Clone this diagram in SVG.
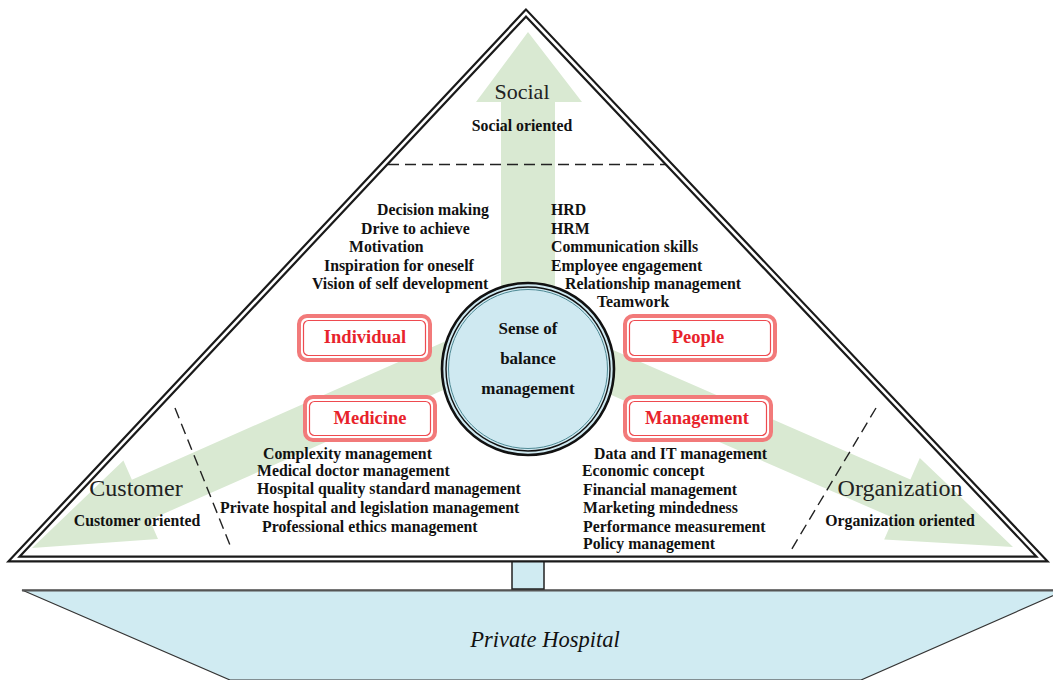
<svg xmlns="http://www.w3.org/2000/svg" width="1053" height="680" viewBox="0 0 1053 680">
<defs>
<style>
.arrow{fill:#d9e9d2;stroke:none}
.t{font-family:"Liberation Serif","Times New Roman",serif;font-weight:bold;font-size:15.8px;fill:#111}
.c{font-family:"Liberation Serif","Times New Roman",serif;font-weight:bold;font-size:17px;fill:#111;text-anchor:middle}
.big{font-family:"Liberation Serif","Times New Roman",serif;font-size:24px;fill:#222}
.lbl{font-family:"Liberation Serif","Times New Roman",serif;font-weight:bold;font-size:18.5px;fill:#e8232b;text-anchor:middle}
.boxo{fill:#fff;stroke:#f27a7a;stroke-width:4}
.boxi{fill:none;stroke:#ee4a4f;stroke-width:1.2}
.dash{fill:none;stroke:#222;stroke-width:1.4;stroke-dasharray:11 6}
</style>
</defs>
<rect width="1053" height="680" fill="#fff"/>
<g id="hospital">
<polygon points="22,590 1066,590 861,680 230,680" fill="#d0ebf2" stroke="#333" stroke-width="1.2"/>
<line x1="22" y1="590.5" x2="1053" y2="590.5" stroke="#555" stroke-width="2"/>
<text x="545" y="647" text-anchor="middle" font-family="'Liberation Serif','Times New Roman',serif" font-style="italic" font-size="22.5" fill="#111">Private Hospital</text>
</g>
<g id="link">
<rect x="512" y="561" width="32" height="28" fill="#d0ebf2" stroke="#222" stroke-width="1.5"/>
</g>
<g id="connectors">
<polygon class="arrow" points="528,32 582,102 555,102 555,330 501,330 501,102 476,102"/>
<polygon class="arrow" points="32,548 158,539 149.7,519.9 543,346 525,306 131.9,479.7 123.4,460.5"/>
<polygon class="arrow" points="1013,547 884.2,539.5 893.6,518 508.6,350.3 525.4,311.7 910.4,479.4 919.8,457.9"/>
<line class="dash" x1="388" y1="164.5" x2="676" y2="164.5"/>
<line class="dash" x1="175" y1="408" x2="232" y2="550"/>
<line class="dash" x1="876" y1="408" x2="790" y2="552"/>
</g>
<g id="pyramid">
<polygon points="526,13 14,559 1042,559" fill="none" stroke="#1a1a1a" stroke-width="7" stroke-linejoin="miter"/>
<polygon points="526,13 14,559 1042,559" fill="none" stroke="#fff" stroke-width="2.6" stroke-linejoin="miter"/>
</g>
<g id="social">
<text class="big" x="522" y="99" text-anchor="middle" style="font-size:22px">Social</text>
<text class="t" x="522" y="131" text-anchor="middle">Social oriented</text>
</g>
<g id="customer">
<text class="big" x="136" y="496" text-anchor="middle">Customer</text>
<text class="t" x="137" y="526" text-anchor="middle">Customer oriented</text>
</g>
<g id="organization">
<text class="big" x="900" y="496" text-anchor="middle">Organization</text>
<text class="t" x="900" y="526" text-anchor="middle">Organization oriented</text>
</g>
<g id="individual-list">
<text class="t" x="377" y="215">Decision making</text>
<text class="t" x="361" y="234">Drive to achieve</text>
<text class="t" x="349" y="252">Motivation</text>
<text class="t" x="324" y="271">Inspiration for oneself</text>
<text class="t" x="312" y="289">Vision of self development</text>
</g>
<g id="people-list">
<text class="t" x="551" y="215">HRD</text>
<text class="t" x="551" y="234">HRM</text>
<text class="t" x="551" y="252">Communication skills</text>
<text class="t" x="551" y="271">Employee engagement</text>
<text class="t" x="565" y="289">Relationship management</text>
<text class="t" x="597" y="307">Teamwork</text>
</g>
<g id="medicine-list">
<text class="t" x="263" y="459">Complexity management</text>
<text class="t" x="257" y="476">Medical doctor management</text>
<text class="t" x="257" y="494">Hospital quality standard management</text>
<text class="t" x="220" y="513">Private hospital and legislation management</text>
<text class="t" x="262" y="532">Professional ethics management</text>
</g>
<g id="management-list">
<text class="t" x="594" y="459">Data and IT management</text>
<text class="t" x="582" y="476">Economic concept</text>
<text class="t" x="583" y="495">Financial management</text>
<text class="t" x="583" y="513">Marketing mindedness</text>
<text class="t" x="583" y="532">Performance measurement</text>
<text class="t" x="583" y="549">Policy management</text>
</g>
<g id="center">
<circle cx="528" cy="369" r="86" fill="#cfe9f1" stroke="#111" stroke-width="2.6"/>
<circle cx="528" cy="369" r="82" fill="none" stroke="#111" stroke-width="1.4"/>
<circle cx="528" cy="369" r="79.5" fill="none" stroke="#4f8a95" stroke-width="1"/>
<text class="c" x="528" y="334">Sense of</text>
<text class="c" x="528" y="364">balance</text>
<text class="c" x="528" y="394">management</text>
</g>
<g id="box-individual">
<rect class="boxo" x="299" y="316" width="131" height="44" rx="8"/>
<rect class="boxi" x="303.5" y="320.5" width="122" height="35" rx="5"/>
<text class="lbl" x="365" y="343">Individual</text>
</g>
<g id="box-people">
<rect class="boxo" x="625" y="316" width="150" height="44" rx="8"/>
<rect class="boxi" x="629.5" y="320.5" width="141" height="35" rx="5"/>
<text class="lbl" x="698" y="343">People</text>
</g>
<g id="box-medicine">
<rect class="boxo" x="305" y="397" width="130" height="43" rx="8"/>
<rect class="boxi" x="309.5" y="401.5" width="121" height="34" rx="5"/>
<text class="lbl" x="370" y="424">Medicine</text>
</g>
<g id="box-management">
<rect class="boxo" x="625" y="397" width="146" height="43" rx="8"/>
<rect class="boxi" x="629.5" y="401.5" width="137" height="34" rx="5"/>
<text class="lbl" x="697" y="424">Management</text>
</g>
</svg>
